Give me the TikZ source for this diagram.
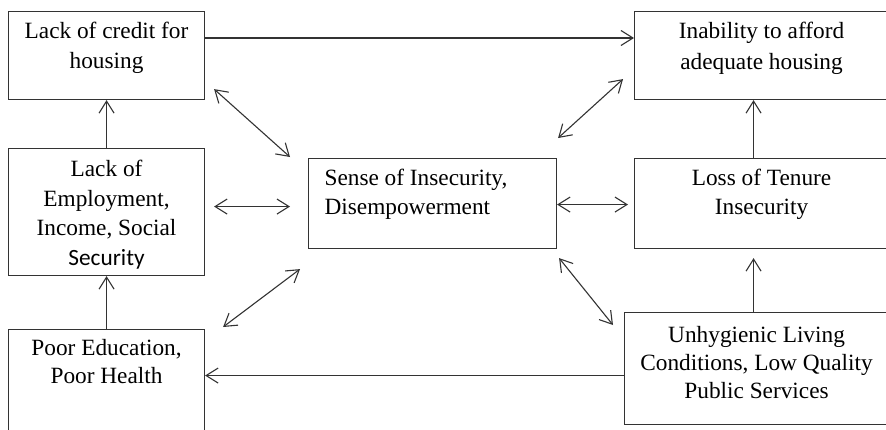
\documentclass[tikz,border=0pt]{standalone}
\usepackage{fontspec}
\setmainfont{Liberation Serif}
\newfontfamily\calfont{Carlito}
\usetikzlibrary{arrows.meta}
\newcommand{\boxtxt}[5]{\parbox[c][#2][t]{#1}{\fontsize{23.3}{#3}\selectfont\centering\vspace{#4}\strut#5}}
\begin{document}
\begin{tikzpicture}[x=1pt,y=-1pt,
  box/.style={draw=black!80, line width=1.1pt, inner sep=0pt, anchor=north west, text=black},
  conn/.style={draw=black!80, line width=1.1pt},
  >={Straight Barb[length=12pt,width=15pt]}]
\useasboundingbox (0,0) rectangle (886,429);
\clip (0,0) rectangle (886,429);
\fill[white] (0,0) rectangle (886,429);
% boxes
\node[box] (b1) at (8,11) {\boxtxt{196pt}{88pt}{30}{6pt}{Lack of credit for\\ housing}};
\node[box] (b2) at (634,11) {\boxtxt{254pt}{88pt}{31}{5.3pt}{Inability to afford\\ adequate housing}};
\node[box] (b3) at (8,148) {\boxtxt{196pt}{127pt}{29.5}{7.35pt}{Lack of\\ Employment,\\ Income, Social\\ {\calfont Security}}};
\node[box] (b4) at (308,158) {\parbox[c][90pt][t]{248pt}{\fontsize{23.3}{29}\selectfont\raggedright\leftskip=16pt\vspace{6.7pt}\strut Sense of Insecurity,\\ Disempowerment}};
\node[box] (b5) at (634,158) {\boxtxt{254pt}{90pt}{29}{6.7pt}{Loss of Tenure\\ Insecurity}};
\node[box] (b6) at (8,329) {\boxtxt{196pt}{105pt}{28}{6.4pt}{Poor Education,\\ Poor Health}};
\node[box] (b7) at (624,312) {\boxtxt{264pt}{112pt}{28}{10.4pt}{Unhygienic Living\\ Conditions, Low Quality\\ Public Services}};
% one-way arrows
\draw[conn,->] ([yshift=-27pt]b1.north east) -- ([yshift=-27pt]b2.north west);
\draw[conn,->] (b3.north) -- (b1.south);
\draw[conn,->] (b6.north) -- (b3.south);
\draw[conn,->] ([xshift=-8pt]b5.north) -- ([xshift=-8pt]b2.south);
\draw[conn,->,shorten >=9pt] ([xshift=-3pt]b7.north) -- ([xshift=-3pt]b7.north |- b5.south);
\draw[conn,->] ([yshift=-7pt]b7.west) -- ([yshift=-7pt]b7.west -| b6.east);
% two-way arrows
\draw[conn,<->] ([shift={(9pt,11pt)}]b1.south east) -- ([shift={(-18pt,1pt)}]b4.north west);
\draw[conn,<->] ([shift={(9pt,5.5pt)}]b3.east) -- ([shift={(-18pt,-3pt)}]b4.west);
\draw[conn,<->] ([shift={(18pt,2pt)}]b6.north east) -- ([shift={(-8pt,-20pt)}]b4.south west);
\draw[conn,<->] ([shift={(0pt,-1pt)}]b4.east) -- ([shift={(-6pt,-1pt)}]b5.west);
\draw[conn,<->] ([shift={(2pt,-9pt)}]b4.south east) -- ([shift={(-11pt,-13pt)}]b7.north west);
\draw[conn,<->] ([shift={(1pt,20pt)}]b4.north east) -- ([shift={(-11pt,21pt)}]b2.south west);
\end{tikzpicture}
\end{document}
